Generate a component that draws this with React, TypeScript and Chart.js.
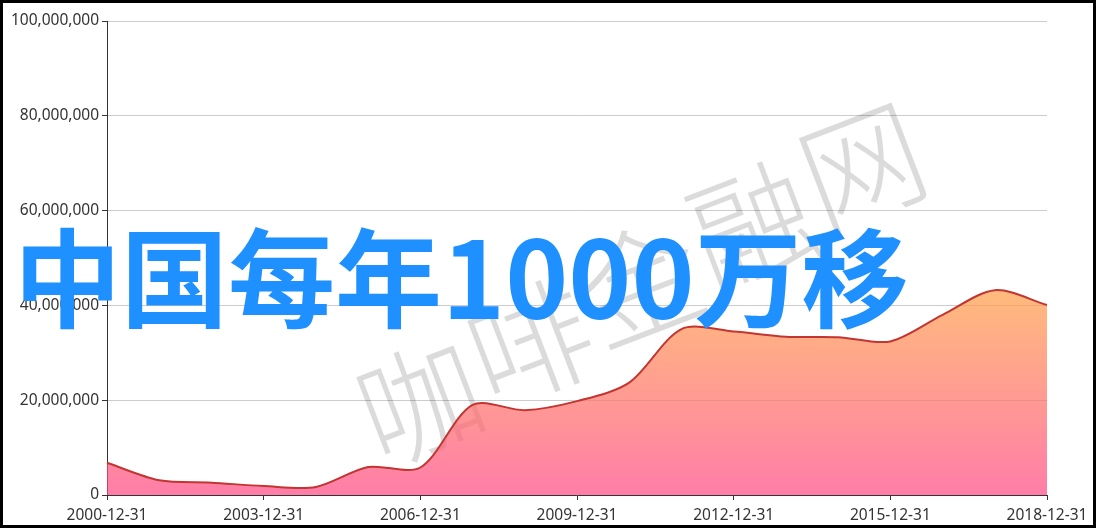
import React, { useEffect, useRef } from 'react';
import { Chart, registerables } from 'chart.js';

Chart.register(...registerables);

const categories = [
  '2000-12-31', '2001-12-31', '2002-12-31', '2003-12-31', '2004-12-31',
  '2005-12-31', '2006-12-31', '2007-12-31', '2008-12-31', '2009-12-31',
  '2010-12-31', '2011-12-31', '2012-12-31', '2013-12-31', '2014-12-31',
  '2015-12-31', '2016-12-31', '2017-12-31', '2018-12-31',
];

const values = [
  6800000, 3100000, 2600000, 1900000, 1700000,
  5900000, 5800000, 19000000, 17900000, 19800000,
  23700000, 35000000, 34500000, 33400000, 33300000,
  32400000, 38000000, 43200000, 40100000,
];

const yTicks = [0, 20000000, 40000000, 60000000, 80000000, 100000000];

const titleText = '中国每年1000万移';
const watermarkChars = ['咖', '啡', '金', '融', '网'];

const LABEL_FONT = { family: '"Noto Sans", "Open Sans", sans-serif', size: 15.5 };

export default function App() {
  const canvasRef = useRef<HTMLCanvasElement | null>(null);

  useEffect(() => {
    const canvas = canvasRef.current;
    if (!canvas) return;

    const watermarkPlugin = {
      id: 'watermark',
      beforeDatasetsDraw(chart: any) {
        const ctx = chart.ctx;
        const start = { x: 420, y: 402 };
        const end = { x: 862, y: 165 };
        const n = watermarkChars.length;
        ctx.save();
        ctx.font = '300 122px "Noto Sans CJK SC"';
        ctx.fillStyle = 'rgba(0,0,0,0.14)';
        ctx.textAlign = 'center';
        ctx.textBaseline = 'middle';
        watermarkChars.forEach((ch, i) => {
          const t = i / (n - 1);
          const cx = start.x + (end.x - start.x) * t;
          const cy = start.y + (end.y - start.y) * t;
          ctx.save();
          ctx.translate(cx, cy);
          ctx.rotate((-21 * Math.PI) / 180);
          ctx.fillText(ch, 0, 0);
          ctx.restore();
        });
        ctx.restore();
      },
    };

    const titlePlugin = {
      id: 'bigTitle',
      afterDraw(chart: any) {
        const ctx = chart.ctx;
        ctx.save();
        ctx.font = 'bold 107px "Noto Sans CJK SC"';
        ctx.fillStyle = '#1e90ff';
        ctx.textAlign = 'left';
        ctx.textBaseline = 'alphabetic';
        ctx.fillText(titleText, 14, 319);
        ctx.restore();
      },
    };

    const chart = new Chart(canvas, {
      type: 'line',
      data: {
        labels: categories,
        datasets: [
          {
            data: values,
            borderColor: '#c23531',
            borderWidth: 2,
            pointRadius: 0,
            pointHoverRadius: 0,
            tension: 0.3,
            fill: 'origin',
            backgroundColor: (c: any) => {
              const ch = c.chart;
              const { chartArea, scales } = ch;
              if (!chartArea || !scales.y) return 'rgba(255,120,140,0.7)';
              const top = scales.y.getPixelForValue(Math.max(...values));
              const bottom = scales.y.getPixelForValue(0);
              const g = ch.ctx.createLinearGradient(0, top, 0, bottom);
              g.addColorStop(0, 'rgba(255,158,68,0.7)');
              g.addColorStop(1, 'rgba(255,70,131,0.7)');
              return g;
            },
          },
        ],
      },
      options: {
        responsive: false,
        animation: false,
        devicePixelRatio: 1,
        layout: {
          autoPadding: false,
          padding: { left: 0, right: 49, top: 21, bottom: 0 },
        },
        plugins: {
          legend: { display: false },
          tooltip: { enabled: false },
        },
        scales: {
          x: {
            type: 'category',
            offset: false,
            grid: {
              display: true,
              drawOnChartArea: false,
              drawTicks: true,
              tickLength: 5,
              tickColor: '#333',
              offset: false,
            },
            border: { display: true, color: '#333', width: 1 },
            ticks: {
              autoSkip: false,
              maxRotation: 0,
              minRotation: 0,
              padding: 6,
              color: '#333',
              font: LABEL_FONT,
              callback: (_v: any, i: number) => (i % 3 === 0 ? categories[i] : null),
            },
            afterFit: (s: any) => {
              s.height = 33;
            },
          },
          y: {
            min: 0,
            max: 100000000,
            afterBuildTicks: (s: any) => {
              s.ticks = yTicks.map((v) => ({ value: v }));
            },
            grid: {
              color: '#cccccc',
              tickColor: '#333',
              tickLength: 5,
              drawTicks: true,
            },
            border: { display: true, color: '#333', width: 1 },
            ticks: {
              padding: 3,
              color: '#333',
              font: LABEL_FONT,
              callback: (v: any) => Number(v).toLocaleString('en-US'),
            },
            afterFit: (s: any) => {
              s.width = 107;
            },
          },
        },
      },
      plugins: [watermarkPlugin, titlePlugin],
    } as any);

    return () => chart.destroy();
  }, []);

  return (
    <div style={{ position: 'fixed', left: 0, top: 0, width: 1096, height: 528, background: '#fff' }}>
      <canvas ref={canvasRef} width={1096} height={528} style={{ display: 'block', width: 1096, height: 528 }} />
      <div
        style={{
          position: 'absolute',
          left: 0,
          top: 0,
          width: 1096,
          height: 528,
          boxSizing: 'border-box',
          border: '3px solid #000',
          pointerEvents: 'none',
        }}
      />
    </div>
  );
}
